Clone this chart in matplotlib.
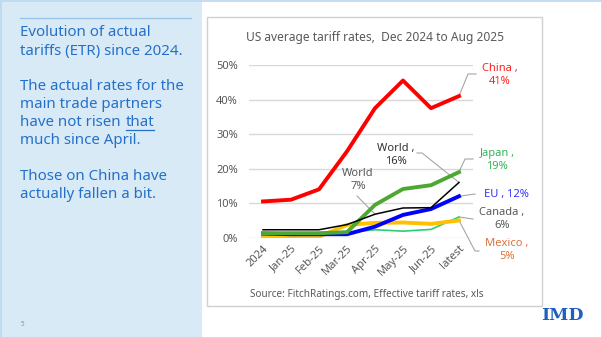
import matplotlib.pyplot as plt
from matplotlib.patches import Rectangle
from matplotlib.lines import Line2D

# --- data (effective tariff rate, %) ---
months = ["2024", "Jan-25", "Feb-25", "Mar-25", "Apr-25", "May-25", "Jun-25", "latest"]
china = [10.5, 11.0, 14.0, 25.0, 37.5, 45.5, 37.5, 41.0]
japan = [1.3, 1.3, 1.3, 1.6, 9.5, 14.1, 15.2, 19.0]
world = [2.3, 2.3, 2.3, 3.8, 6.8, 8.6, 8.7, 16.0]
eu = [1.2, 1.0, 1.0, 1.0, 3.2, 6.6, 8.3, 12.0]
mexico = [0.3, 0.3, 0.3, 3.7, 4.3, 4.4, 4.0, 5.0]
canada = [0.8, 0.8, 0.8, 1.5, 2.3, 1.9, 2.4, 6.0]

W, H = 602, 338
BLUE_TXT = "#2470c8"
GREY = "#595959"

plt.rcParams["font.family"] = ["Noto Sans", "DejaVu Sans"]

fig = plt.figure(figsize=(W / 100, H / 100), dpi=100)
fig.patch.set_facecolor("white")


def fx(px):
    return px / W


def fy(py):
    return 1 - py / H


# slide background: blue side panel, chart box, outer border
fig.add_artist(Rectangle((0, 0), fx(202), 1, transform=fig.transFigure,
                         facecolor="#d9eaf7", edgecolor="none", zorder=0))
fig.add_artist(Rectangle((fx(207), fy(306)), fx(542 - 207), (306 - 17) / H,
                         transform=fig.transFigure, facecolor="white",
                         edgecolor="#d0d0d0", linewidth=1.0, zorder=0))
fig.add_artist(Rectangle((fx(0.5), fy(337.5)), fx(601), 337 / H,
                         transform=fig.transFigure, facecolor="none",
                         edgecolor="#bcd7ef", linewidth=1.2, zorder=5))
fig.add_artist(Line2D([fx(20), fx(191)], [fy(18), fy(18)], transform=fig.transFigure,
                      color="#9cc3e8", linewidth=1.0))

# side commentary
side_lines = [
    (32, "Evolution of actual"),
    (51, "tariffs (ETR) since 2024."),
    (87, "The actual rates for the"),
    (105, "main trade partners"),
    (141, "much since April."),
    (177, "Those on China have"),
    (195, "actually fallen a bit."),
]
for py, s in side_lines:
    fig.text(fx(20), fy(py), s, fontsize=10.8, color=BLUE_TXT, va="center", ha="left")

t1 = fig.text(fx(20), fy(123), "have not risen", fontsize=10.8, color=BLUE_TXT,
              va="center", ha="left")
renderer = fig.canvas.get_renderer()
bb = t1.get_window_extent(renderer)
t2 = fig.text((bb.x1 + 5) / W, fy(123), "that", fontsize=10.8, color=BLUE_TXT,
              va="center", ha="left")
bb2 = t2.get_window_extent(renderer)
fig.add_artist(Line2D([bb2.x0 / W, bb2.x1 / W], [fy(129.5), fy(129.5)],
                      transform=fig.transFigure, color=BLUE_TXT, linewidth=0.9))

fig.text(fx(21), fy(324), "5", fontsize=4.5, color="#5b9bd5", va="center")
fig.text(fx(562), fy(316), "IMD", fontsize=12.5, color="#1f5fbf", fontweight="bold",
         family="DejaVu Serif", va="center", ha="center")

# --- chart ---
ax = fig.add_axes([fx(249), fy(237.7), fx(473 - 249), (237.7 - 65) / H])
x = list(range(len(months)))

ax.plot(x, canada, color="#2ecc71", lw=1.2, zorder=3)
ax.plot(x, mexico, color="#ffc000", lw=2.8, zorder=3)
ax.plot(x, eu, color="#0000ff", lw=2.8, zorder=4)
ax.plot(x, world, color="black", lw=1.1, zorder=5)
ax.plot(x, japan, color="#4ca832", lw=2.8, zorder=4)
ax.plot(x, china, color="#ff0000", lw=2.8, zorder=6)

ax.set_xlim(-0.5, 7.5)
ax.set_ylim(0, 50)
ax.set_yticks([0, 10, 20, 30, 40, 50])
ax.set_yticklabels([f"{v}%" for v in [0, 10, 20, 30, 40, 50]], color=GREY, fontsize=8)
ax.set_xticks(x)
ax.set_xticklabels(months, rotation=45, ha="right", va="top", rotation_mode="anchor",
                   color=GREY, fontsize=8)
ax.tick_params(length=0, pad=8)
ax.tick_params(axis="x", pad=4)
ax.grid(True, axis="y", color="#d9d9d9", linewidth=1.0)
ax.set_axisbelow(True)
for sp in ax.spines.values():
    sp.set_visible(False)
ax.patch.set_alpha(0)

# px -> data helpers for label placement
def dx(px):
    return (px - 263) / 28.0


def dy(py):
    return (237.7 - py) / 3.454


def leader(pts):
    xs = [p[0] for p in pts]
    ys = [p[1] for p in pts]
    ax.plot(xs, ys, color="#a6a6a6", lw=0.8, clip_on=False, zorder=2)


last = len(months) - 1
leader([(last, china[-1]), (dx(468), dy(74)), (dx(476), dy(74))])
ax.text(dx(500), dy(75), "China ,\n41%", color="#ff2222", fontsize=8, ha="center",
        va="center", clip_on=False, linespacing=1.3)

leader([(last, japan[-1]), (dx(465), dy(159)), (dx(473), dy(159))])
ax.text(dx(497), dy(160), "Japan ,\n19%", color="#33b557", fontsize=8, ha="center",
        va="center", clip_on=False, linespacing=1.3)

leader([(last, eu[-1]), (dx(475), dy(194))])
ax.text(dx(506), dy(195), "EU , 12%", color="#3333ff", fontsize=8, ha="center",
        va="center", clip_on=False, fontweight="semibold")

leader([(last, canada[-1]), (dx(473), dy(219))])
ax.text(dx(502), dy(219), "Canada ,\n6%", color=GREY, fontsize=8, ha="center",
        va="center", clip_on=False, linespacing=1.3)

leader([(last, mexico[-1]), (dx(475), dy(251)), (dx(479), dy(251))])
ax.text(dx(507), dy(250), "Mexico ,\n5%", color="#e0703a", fontsize=8, ha="center",
        va="center", clip_on=False, linespacing=1.3)

leader([(dx(417), dy(153)), (dx(422), dy(153)), (last, world[-1])])
ax.text(dx(396), dy(155), "World ,\n16%", color="#333333", fontsize=8, ha="center",
        va="center", fontweight="bold", linespacing=1.3)

leader([(dx(357), dy(196)), (4, world[4])])
ax.text(dx(358), dy(180), "World\n7%", color=GREY, fontsize=8, ha="center",
        va="center", linespacing=1.3)

fig.text(fx(375), fy(37), "US average tariff rates,  Dec 2024 to Aug 2025",
         fontsize=8.6, color=GREY, ha="center", va="center")
fig.text(fx(367), fy(295), "Source: FitchRatings.com, Effective tariff rates, xls",
         fontsize=7.2, color=GREY, ha="center", va="center")

fig.savefig("out.png", dpi=100)
